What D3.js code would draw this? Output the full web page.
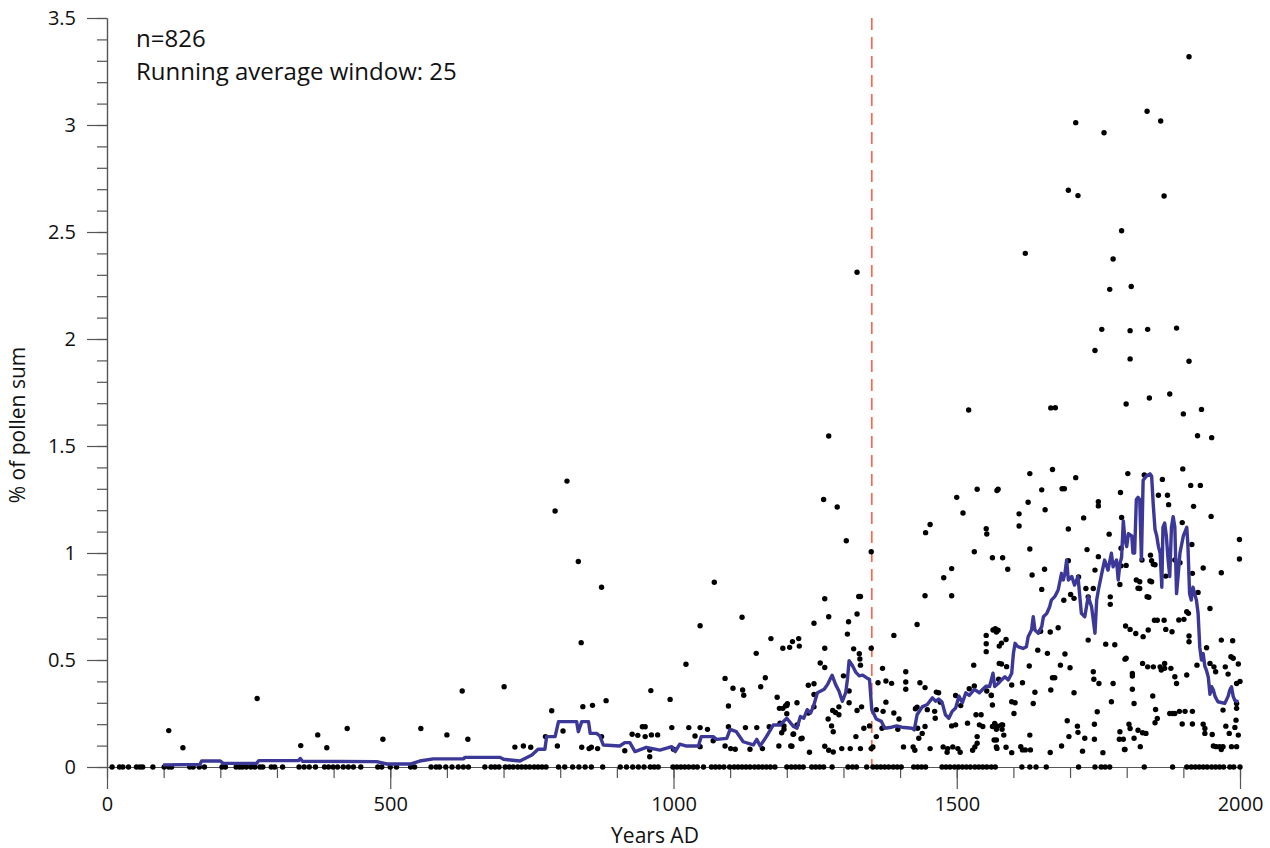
<!DOCTYPE html>
<meta charset="utf-8">
<style>
  body { margin: 0; background: #fff; }
  svg { display: block; }
  .axis path, .axis line { stroke: #555; stroke-width: 1.2px; }
  .axis text { font: 20px "Open Sans", sans-serif; fill: #111; }
  .note { font: 24px "Open Sans", sans-serif; fill: #111; }
  .label { font: 21px "Open Sans", sans-serif; fill: #111; }
</style>
<body>
<script src="https://cdn.jsdelivr.net/npm/d3@7"></script>
<script>
// samples with no pollen (value 0), by year AD
var zeroYears = [9,22,28,38,52,58,63,81,101,109,114,146,152,163,172,203,209,228,234,239,246,254,261,270,275,290,296,310,
  339,348,357,368,384,391,399,407,417,426,435,448,478,485,500,511,536,543,572,581,587,598,609,620,629,638,667,678,685,692,
  703,710,717,725,732,739,746,754,761,768,775,797,808,822,833,844,855,875,906,917,928,938,948,959,966,973,999,1006,1013,
  1020,1027,1035,1042,1053,1067,1074,1081,1089,1099,1107,1114,1121,1128,1135,1143,1150,1157,1164,1171,1179,1200,1208,1215,
  1222,1229,1244,1251,1258,1265,1280,1308,1316,1323,1341,1352,1359,1366,1373,1380,1388,1395,1402,1424,1431,1438,1445,1474,
  1481,1488,1496,1503,1510,1517,1524,1532,1539,1546,1553,1561,1568,1615,1629,1640,1658,1715,1744,1755,1762,1770,1831,1881,
  1906,1914,1921,1928,1935,1942,1950,1957,1964,1971,1982,1989,2000];

// [year, % of pollen sum]
var pointsEarly = [[109,0.17],[134,0.09],[265,0.32],[342,0.1],[372,0.15],[388,0.09],[424,0.18],[487,0.13],[554,0.18],
  [600,0.15],[627,0.355],[637,0.13],[701,0.375],[720,0.093],[735,0.098],[748,0.092]];

var pointsMedieval = [[785,0.263],[791,1.196],[812,1.336],[832,0.96],[837,0.581],[873,0.84],[774,0.142],[805,0.168],
  [795,0.098],[840,0.282],[857,0.288],[881,0.31],[838,0.092],[851,0.086],[855,0.092],[866,0.086],[873,0.142],[914,0.076],
  [927,0.153],[937,0.148],[945,0.188],[950,0.188],[950,0.142],[960,0.357],[961,0.15],[972,0.15],[958,0.079],[958,0.048],
  [994,0.316],[997,0.184],[1000,0.083],[1022,0.48],[1027,0.184],[1038,0.145],[1047,0.66],[1047,0.184],[1047,0.095],
  [1060,0.176],[1070,0.123],[1072,0.863],[1091,0.414],[1097,0.285],[1097,0.188],[1091,0.098],[1101,0.086],[1109,0.083],
  [1105,0.368],[1121,0.70],[1122,0.36],[1124,0.335],[1127,0.184],[1135,0.083],[1146,0.531],[1147,0.184],[1154,0.375],
  [1157,0.086],[1162,0.417],[1172,0.60],[1183,0.326],[1187,0.274],[1186,0.098],[1193,0.555],[1205,0.559],[1210,0.586],
  [1221,0.60],[1198,0.286],[1201,0.296],[1191,0.16],[1195,0.176],[1195,0.192],[1211,0.153],[1207,0.098],[1169,0.188],
  [1225,0.132],[1188,0.205],[1193,0.274],[1200,0.287],[1200,0.249],[1209,0.097],[1212,0.154],[1218,0.197],[1218,0.30],
  [1222,0.565],[1227,0.134]];

var pointsLateMedieval = [[1324,2.312],[1274,1.547],[1265,1.25],[1289,1.215],[1305,1.057],[1349,1.006],[1327,0.797],
  [1330,0.797],[1324,0.715],[1267,0.786],[1274,0.702],[1248,0.672],[1309,0.679],[1307,0.621],[1267,0.555],[1318,0.552],
  [1328,0.529],[1349,0.555],[1259,0.486],[1267,0.465],[1329,0.505],[1330,0.476],[1300,0.426],[1238,0.382],[1248,0.389],
  [1248,0.339],[1238,0.252],[1248,0.281],[1281,0.264],[1286,0.255],[1292,0.244],[1292,0.281],[1273,0.224],[1279,0.192],
  [1282,0.165],[1310,0.355],[1310,0.30],[1324,0.264],[1332,0.281],[1336,0.181],[1346,0.192],[1322,0.142],[1349,0.086],
  [1352,0.094],[1330,0.086],[1312,0.086],[1297,0.086],[1267,0.097],[1274,0.078],[1282,0.07],[1240,0.069],[1361,0.394],
  [1369,0.461],[1375,0.402],[1385,0.391],[1389,0.615],[1410,0.445],[1410,0.397],[1410,0.363],[1430,0.666],[1435,0.394],
  [1444,0.371],[1444,0.80],[1445,1.095],[1453,1.133],[1464,0.35],[1471,0.303],[1477,0.884],[1491,0.927],[1491,0.80],
  [1500,1.26],[1511,1.187],[1521,1.668],[1531,1.006],[1536,1.298],[1573,1.298],[1552,1.113],[1553,1.089],[1563,0.978],
  [1570,0.631],[1573,0.639],[1552,0.615],[1552,0.576],[1552,0.539],[1530,0.476],[1531,0.379],[1522,0.366],[1498,0.334],
  [1507,0.287],[1519,0.205],[1534,0.244],[1540,0.197],[1546,0.189],[1563,0.189],[1570,0.176],[1536,0.142],[1536,0.111],
  [1570,0.126],[1468,0.347],[1461,0.26],[1448,0.268],[1462,0.228],[1498,0.197],[1491,0.192],[1430,0.28],[1427,0.272],
  [1431,0.181],[1433,0.134],[1439,0.157],[1444,0.189],[1453,0.086],[1423,0.094],[1426,0.078],[1406,0.094],[1389,0.252],
  [1398,0.224],[1396,0.176],[1375,0.303],[1370,0.26],[1368,0.181],[1358,0.268],[1358,0.142],[1476,0.094],[1484,0.086],
  [1483,0.069],[1493,0.094],[1502,0.086],[1506,0.069],[1528,0.078],[1532,0.094],[1570,0.094],[1579,0.197],[1580,0.176],
  [1579,0.481],[1579,0.579],[1581,0.978],[1574,0.41],[1553,0.355],[1561,0.334],[1543,0.244]];

var pointsHigh = [[1910,3.319],[1836,3.064],[1860,3.019],[1710,3.011],[1760,2.964],[1697,2.695],[1714,2.67],[1866,2.668],
  [1791,2.506],[1621,2.40],[1776,2.374],[1770,2.232],[1808,2.245],[1756,2.045],[1806,2.039],[1837,2.045],[1888,2.051],
  [1744,1.946],[1806,1.907],[1910,1.896],[1876,1.743],[1840,1.724],[1799,1.696],[1666,1.678],[1674,1.679],[1932,1.671],
  [1900,1.65],[1925,1.548],[1950,1.539],[1899,1.393],[1802,1.371],[1831,1.365],[1669,1.39],[1629,1.371],[1710,1.352],
  [1686,1.30],[1690,1.30],[1650,1.295],[1571,1.292],[1863,1.344],[1856,1.27],[1872,1.27],[1913,1.316],[1930,1.316],
  [1918,1.218],[1789,1.283],[1874,1.226],[1626,1.237],[1656,1.202],[1610,1.183],[1610,1.126],[1724,1.164],[1750,1.24],
  [1750,1.22],[1769,1.088],[1791,1.166],[1697,1.112],[1949,1.171],[1898,1.142],[1915,1.04],[1590,0.924],[1629,1.019],
  [1633,0.897],[1655,0.924],[1730,1.016],[1750,0.983],[1790,1.022],[1790,0.94],[1844,0.964],[1850,0.945],[1935,0.93],
  [1999,1.063],[1999,0.972],[1967,0.908],[1715,0.888],[1697,0.964],[1728,0.834],[1741,0.834],[1732,0.795],[1771,0.795],
  [1771,0.76],[1788,0.853],[1823,0.866],[1823,0.834],[1844,0.866],[1839,0.793],[1689,0.779],[1701,0.806]];

var pointsModern = [[1650,0.83],[1707,0.788],[1744,0.92],[1798,0.659],[1732,0.593],[1763,0.574],[1779,0.571],[1797,0.504],
  [1564,0.64],[1568,0.646],[1587,0.596],[1575,0.565],[1575,0.484],[1588,0.469],[1628,0.472],[1648,0.634],[1643,0.546],
  [1665,0.631],[1679,0.651],[1660,0.531],[1691,0.528],[1683,0.476],[1700,0.464],[1669,0.417],[1673,0.417],[1666,0.36],
  [1741,0.445],[1742,0.41],[1751,0.39],[1776,0.39],[1707,0.347],[1638,0.349],[1635,0.297],[1616,0.394],[1597,0.383],
  [1597,0.305],[1603,0.30],[1601,0.25],[1561,0.336],[1563,0.29],[1773,0.305],[1748,0.258],[1695,0.216],[1713,0.191],
  [1743,0.20],[1788,0.165],[1804,0.20],[1567,0.204],[1572,0.191],[1581,0.196],[1583,0.149],[1566,0.126],[1587,0.092],
  [1597,0.067],[1571,0.087],[1613,0.095],[1616,0.08],[1621,0.08],[1630,0.08],[1629,0.149],[1665,0.068],[1685,0.098],
  [1698,0.142],[1714,0.162],[1722,0.074],[1726,0.134],[1743,0.13],[1758,0.067],[1787,0.13],[1794,0.13],[1797,0.082],
  [1799,0.942],[1817,0.874],[1820,0.835],[1827,0.967],[1842,0.99],[1847,0.947],[1836,0.796],[1841,0.869],[1869,0.892],
  [1885,0.967],[1894,0.955],[1916,0.905],[1926,0.816],[1947,0.741],[1906,0.726],[1909,0.718],[1901,0.69],[1892,0.687],
  [1866,0.686],[1854,0.686],[1849,0.686],[1869,0.643],[1880,0.632],[1838,0.64],[1829,0.609],[1816,0.624],[1806,0.643],
  [1910,0.612],[1910,0.585],[1967,0.593],[1987,0.59],[1924,0.476],[1941,0.557],[1947,0.484],[1954,0.468],[1957,0.445],
  [1799,0.508],[1810,0.437],[1810,0.425],[1828,0.484],[1837,0.468],[1847,0.468],[1859,0.468],[1867,0.484],[1867,0.461],
  [1861,0.453],[1878,0.461],[1885,0.422],[1888,0.39],[1906,0.43],[1974,0.468],[1984,0.515],[1988,0.508],[1997,0.481],
  [1979,0.434],[1994,0.39],[2000,0.40],[1810,0.363],[1846,0.332],[1813,0.297],[1851,0.269],[1854,0.227],[1850,0.207],
  [1876,0.25],[1881,0.25],[1885,0.25],[1893,0.26],[1903,0.26],[1916,0.26],[1898,0.201],[1916,0.201],[1935,0.2],
  [1938,0.18],[1938,0.157],[1951,0.152],[1958,0.095],[1964,0.095],[1967,0.082],[1970,0.095],[1953,0.098],[1975,0.191],
  [1981,0.157],[1985,0.095],[1994,0.095],[1991,0.185],[1993,0.219],[1997,0.149],[1970,0.266],[1994,0.274],[1994,0.297],
  [1813,0.134],[1806,0.18],[1820,0.172],[1828,0.16],[1834,0.157],[1824,0.095],[1796,0.082]];

// running average (window 25)
var runningAvg = [[99,0.01],[164,0.012],[167,0.028],[200,0.028],[205,0.017],[264,0.017],[268,0.03],[338,0.03],[341,0.04],
  [345,0.027],[476,0.025],[494,0.014],[535,0.014],[552,0.028],[576,0.038],[629,0.038],[632,0.045],[694,0.045],[700,0.036],
  [729,0.028],[750,0.056],[761,0.083],[773,0.083],[776,0.142],[791,0.142],[797,0.212],[829,0.212],[832,0.165],[838,0.212],
  [850,0.212],[853,0.157],[864,0.157],[870,0.145],[876,0.103],[905,0.098],[914,0.114],[923,0.114],[932,0.072],[952,0.092],
  [976,0.079],[997,0.095],[1003,0.072],[1011,0.107],[1023,0.098],[1044,0.098],[1049,0.142],[1070,0.142],[1076,0.129],
  [1094,0.134],[1100,0.176],[1111,0.165],[1123,0.118],[1141,0.103],[1147,0.129],[1153,0.098],[1164,0.142],[1176,0.196],
  [1188,0.196],[1200,0.228],[1212,0.189],[1218,0.181],[1224,0.236],[1230,0.228],[1236,0.268],[1242,0.252],[1248,0.292],
  [1254,0.347],[1260,0.355],[1266,0.363],[1272,0.386],[1277,0.413],[1280,0.429],[1286,0.386],[1292,0.355],[1298,0.307],
  [1304,0.347],[1307,0.41],[1310,0.497],[1316,0.473],[1322,0.442],[1328,0.426],[1334,0.429],[1343,0.413],[1346,0.41],
  [1350,0.268],[1358,0.224],[1367,0.213],[1373,0.181],[1385,0.186],[1394,0.192],[1403,0.186],[1421,0.181],[1425,0.173],
  [1430,0.244],[1439,0.281],[1448,0.292],[1457,0.323],[1463,0.307],[1468,0.318],[1474,0.303],[1480,0.244],[1486,0.228],
  [1492,0.26],[1498,0.276],[1504,0.331],[1510,0.30],[1516,0.347],[1522,0.334],[1531,0.363],[1540,0.347],[1546,0.363],
  [1552,0.378],[1558,0.376],[1564,0.438],[1567,0.376],[1573,0.39],[1579,0.407],[1585,0.422],[1591,0.407],[1597,0.438],
  [1600,0.531],[1603,0.578],[1608,0.562],[1617,0.554],[1623,0.562],[1626,0.609],[1632,0.64],[1635,0.702],[1638,0.64],
  [1644,0.625],[1650,0.656],[1653,0.702],[1659,0.718],[1664,0.749],[1667,0.78],[1673,0.796],[1679,0.827],[1685,0.905],
  [1688,0.874],[1691,0.905],[1694,0.967],[1697,0.874],[1703,0.89],[1708,0.85],[1714,0.89],[1720,0.718],[1726,0.702],
  [1732,0.796],[1738,0.749],[1744,0.625],[1747,0.78],[1750,0.827],[1756,0.905],[1761,0.967],[1767,0.92],[1773,0.999],
  [1776,0.936],[1782,0.967],[1785,0.874],[1788,0.95],[1791,0.98],[1794,1.15],[1797,1.06],[1800,1.03],[1803,1.09],
  [1809,1.08],[1811,1.0],[1814,1.0],[1817,1.25],[1820,1.26],[1823,1.25],[1826,0.97],[1829,1.34],[1835,1.36],[1841,1.37],
  [1844,1.36],[1847,1.22],[1850,1.11],[1853,1.08],[1856,1.03],[1859,1.0],[1862,0.84],[1864,1.12],[1867,1.14],[1870,1.08],
  [1873,0.97],[1876,0.89],[1879,1.12],[1882,1.17],[1885,1.12],[1888,0.81],[1891,0.9],[1894,1.0],[1900,1.08],[1906,1.12],
  [1908,1.04],[1911,0.81],[1914,0.78],[1917,0.84],[1920,0.81],[1923,0.78],[1926,0.72],[1929,0.56],[1932,0.5],[1935,0.53],
  [1938,0.47],[1941,0.45],[1944,0.42],[1947,0.34],[1950,0.375],[1953,0.36],[1956,0.33],[1961,0.305],[1973,0.297],
  [1979,0.33],[1982,0.36],[1985,0.375],[1988,0.33],[1991,0.31],[1997,0.305]];

var markerYear = 1350;
var xMajor = [0, 500, 1000, 1500, 2000],
    yMajor = [0, 0.5, 1, 1.5, 2, 2.5, 3, 3.5];

var width = 1270, height = 848;

var svg = d3.select("body").append("svg")
  .attr("width", width)
  .attr("height", height);

var x = d3.scaleLinear().domain([0, 2000]).range([107, 1240]);
var y = d3.scaleLinear().domain([0, 3.5]).range([767, 18]);

// minor ticks first, then the labelled ones
svg.append("g").attr("class", "axis")
  .attr("transform", "translate(0," + y(0) + ")")
  .call(d3.axisBottom(x).tickValues(d3.range(0, 2001, 100)).tickSize(11).tickSizeOuter(0).tickFormat(""));
svg.append("g").attr("class", "axis")
  .attr("transform", "translate(0," + y(0) + ")")
  .call(d3.axisBottom(x).tickValues(xMajor).tickSize(22).tickSizeOuter(0).tickPadding(8).tickFormat(d3.format("d")));

svg.append("g").attr("class", "axis")
  .attr("transform", "translate(" + x(0) + ",0)")
  .call(d3.axisLeft(y).tickValues(d3.range(0, 36).map(function(i){ return i / 10; })).tickSize(10).tickSizeOuter(0).tickFormat(""));
svg.append("g").attr("class", "axis")
  .attr("transform", "translate(" + x(0) + ",0)")
  .call(d3.axisLeft(y).tickValues(yMajor).tickSize(20).tickSizeOuter(0).tickPadding(11).tickFormat(function(d){ return d; }));

// dashed marker
svg.append("line")
  .attr("x1", x(markerYear)).attr("x2", x(markerYear))
  .attr("y1", y(3.5)).attr("y2", y(0))
  .attr("stroke", "#f26a4f")
  .attr("stroke-width", 1.7)
  .attr("stroke-dasharray", "12,7");

var allPoints = zeroYears.map(function(d){ return [d, 0]; })
  .concat(pointsEarly, pointsMedieval, pointsLateMedieval, pointsHigh, pointsModern);

svg.append("g").selectAll("circle")
  .data(allPoints)
  .enter().append("circle")
    .attr("cx", function(d){ return x(d[0]); })
    .attr("cy", function(d){ return y(d[1]); })
    .attr("r", 2.7)
    .attr("fill", "#000");

var line = d3.line()
  .x(function(d){ return x(d[0]); })
  .y(function(d){ return y(d[1]); });

svg.append("path")
  .datum(runningAvg)
  .attr("d", line)
  .attr("fill", "none")
  .attr("stroke", "#3c3898")
  .attr("stroke-width", 3.4)
  .attr("stroke-linejoin", "round");

// texts
svg.append("text").attr("class", "note").attr("x", 136).attr("y", 47).text("n=826");
svg.append("text").attr("class", "note").attr("x", 136).attr("y", 80).text("Running average window: 25");

svg.append("text").attr("class", "label")
  .attr("text-anchor", "middle")
  .attr("x", 655).attr("y", 843)
  .text("Years AD");

svg.append("text").attr("class", "label")
  .attr("text-anchor", "middle")
  .attr("transform", "translate(25,425) rotate(-90)")
  .text("% of pollen sum");
</script>
